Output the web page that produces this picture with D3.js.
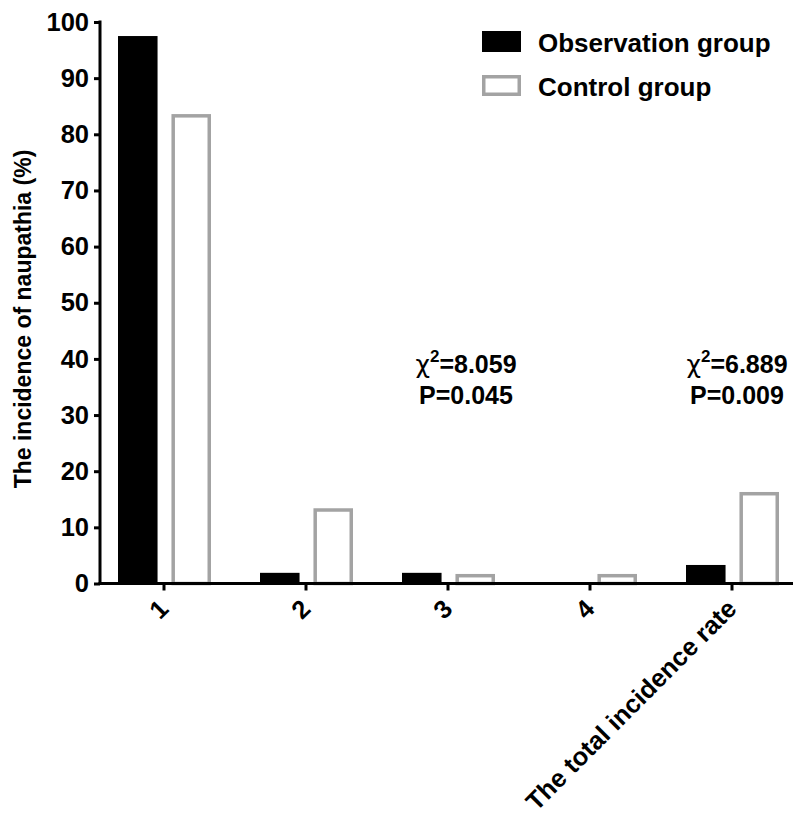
<!DOCTYPE html>
<html>
<head>
<meta charset="utf-8">
<script src="https://cdn.jsdelivr.net/npm/d3@7/dist/d3.min.js"></script>
<style>
  html, body { margin: 0; padding: 0; background: #fff; }
  svg { display: block; font-family: "Liberation Sans", Arial, sans-serif; }
</style>
</head>
<body>
<svg id="chart" width="793" height="819"></svg>
<script>
const categories = ["1", "2", "3", "4", "The total incidence rate"];
const seriesNames = ["Observation group", "Control group"];
const observation = [97.5, 1.9, 1.9, 0, 3.3];
const control = [83.6, 13.4, 1.7, 1.7, 16.3];
const yTicks = [0, 10, 20, 30, 40, 50, 60, 70, 80, 90, 100];
const annotations = [
  { category: "3", chi: "8.059", p: "0.045" },
  { category: "The total incidence rate", chi: "6.889", p: "0.009" }
];

const svg = d3.select("#chart");
const axisX = 100, baseY = 583.5, topY = 22;
const grey = "#a3a3a3";

const y = d3.scaleLinear().domain([0, 100]).range([baseY, topY]);
const x = d3.scaleBand().domain(categories).range([93, 803]).padding(0);
const xi = d3.scaleBand().domain(seriesNames).range([25, 118]).paddingInner(0.26);

// bars
const data = categories.map((c, i) => ({ c, obs: observation[i], ctrl: control[i] }));
const g = svg.append("g");
data.forEach(d => {
  const bx = x(d.c);
  if (d.obs > 0) {
    g.append("rect")
      .attr("x", bx + xi(seriesNames[0]))
      .attr("y", y(d.obs))
      .attr("width", xi.bandwidth())
      .attr("height", y(0) - y(d.obs))
      .attr("fill", "#000");
  }
  if (d.ctrl > 0) {
    const sw = 3.5;
    g.append("rect")
      .attr("x", bx + xi(seriesNames[1]) + sw / 2)
      .attr("y", y(d.ctrl) + sw / 2)
      .attr("width", xi.bandwidth() - sw)
      .attr("height", Math.max(0, y(0) - y(d.ctrl) - sw / 2))
      .attr("fill", "#fff")
      .attr("stroke", grey)
      .attr("stroke-width", sw);
  }
});

// y axis
const yAxis = d3.axisLeft(y).tickValues(yTicks).tickSize(6).tickSizeOuter(0).tickPadding(5);
const ya = svg.append("g").attr("transform", `translate(${axisX},0)`).call(yAxis);
ya.select(".domain").attr("stroke", "#000").attr("stroke-width", 3)
  .attr("d", `M0,${topY - 1.5}V${baseY}`);
ya.selectAll(".tick line").attr("stroke", "#000").attr("stroke-width", 3);
ya.selectAll(".tick text").attr("font-size", 25.5).attr("font-weight", "bold")
  .attr("fill", "#000").attr("font-family", "Liberation Sans, Arial, sans-serif");

// x axis
const xAxis = d3.axisBottom(x).tickSize(7).tickSizeOuter(0).tickFormat(() => "");
const xa = svg.append("g").attr("transform", `translate(0,${baseY})`).call(xAxis);
xa.select(".domain").attr("stroke", "#000").attr("stroke-width", 3)
  .attr("d", `M${axisX - 1.5},0H793`);
xa.selectAll(".tick line").attr("stroke", "#000").attr("stroke-width", 3);

// rotated x labels
svg.append("g").selectAll("text").data(categories).join("text")
  .attr("transform", d => `translate(${x(d) + x.bandwidth() / 2 + 6},${baseY + 27}) rotate(-45)`)
  .attr("text-anchor", "end")
  .attr("font-size", 25.5)
  .attr("font-weight", "bold")
  .attr("fill", "#000")
  .text(d => d);

// y axis title
svg.append("text")
  .attr("transform", `translate(31,319) rotate(-90)`)
  .attr("text-anchor", "middle")
  .attr("font-size", 23)
  .attr("font-weight", "bold")
  .text("The incidence of naupathia (%)");

// legend
const lg = svg.append("g");
seriesNames.forEach((name, i) => {
  const ly = 31 + i * 44;
  if (i === 0) {
    lg.append("rect").attr("x", 482).attr("y", ly).attr("width", 39).attr("height", 21).attr("fill", "#000");
  } else {
    lg.append("rect").attr("x", 483.75).attr("y", ly + 1.75).attr("width", 35.5).attr("height", 17.5)
      .attr("fill", "#fff").attr("stroke", grey).attr("stroke-width", 3.5);
  }
  lg.append("text").attr("x", 538).attr("y", ly + 21)
    .attr("font-size", 26).attr("font-weight", "bold").text(name);
});

// annotations
const annOffset = { "3": 18, "The total incidence rate": 5 };
annotations.forEach(a => {
  const cx = x(a.category) + x.bandwidth() / 2 + annOffset[a.category];
  const t = svg.append("text").attr("x", cx).attr("y", 373)
    .attr("text-anchor", "middle").attr("font-size", 25).attr("font-weight", "bold");
  t.append("tspan").attr("font-weight", "normal").attr("font-family", "DejaVu Sans, sans-serif").text("χ");
  t.append("tspan").attr("font-size", 17).attr("dy", -11).text("2");
  t.append("tspan").attr("dy", 11).text("=" + a.chi);
  svg.append("text").attr("x", cx).attr("y", 404)
    .attr("text-anchor", "middle").attr("font-size", 25).attr("font-weight", "bold")
    .text("P=" + a.p);
});
</script>
</body>
</html>
